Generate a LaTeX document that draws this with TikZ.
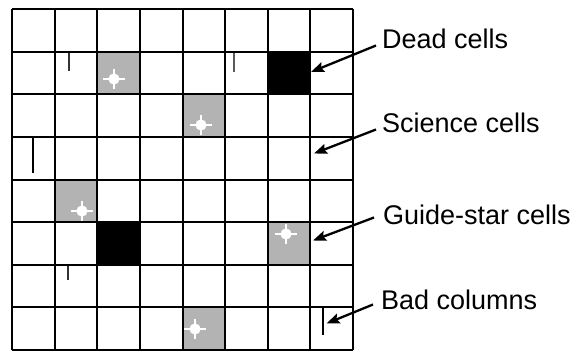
\documentclass[tikz,border=0pt]{standalone}
\usepackage{fontspec}
\setmainfont{Liberation Sans}
\usetikzlibrary{arrows.meta}
\definecolor{guidegray}{RGB}{179,179,179}
\tikzset{
  gridline/.style={line width=2pt,black},
  deadcell/.style={fill=black},
  guidecell/.style={fill=guidegray},
  starmark/.style={white,line width=1.2pt},
  badcol/.style={line width=#1,black!80},
  label/.style={anchor=base west,inner sep=0pt,font=\fontsize{27}{30}\selectfont},
  pointer/.style={line width=2.3pt,-{Stealth[length=13pt,width=10pt,inset=2pt]}},
}
\newcommand{\cellat}[3]{% col, row, style
  \fill[#3] ({12+42.625*(#1-1)},{9+42.625*(#2-1)}) rectangle ++(42.625,42.625);}
\newcommand{\guidestar}[2]{%
  \fill[white] (#1,#2) circle (5.6);
  \draw[starmark] (#1-11,#2) -- (#1+11,#2);
  \draw[starmark] (#1,#2-10) -- (#1,#2+10);}
\begin{document}
\begin{tikzpicture}[x=1pt,y=-1pt]
\useasboundingbox (0,0) rectangle (576,351);
\fill[white] (0,0) rectangle (576,351);
% special cells
\cellat{3}{2}{guidecell}
\cellat{5}{3}{guidecell}
\cellat{2}{5}{guidecell}
\cellat{7}{6}{guidecell}
\cellat{5}{8}{guidecell}
\cellat{7}{2}{deadcell}
\cellat{3}{6}{deadcell}
% guide stars
\guidestar{114}{79}
\guidestar{201}{125}
\guidestar{82}{211}
\guidestar{286}{234}
\guidestar{195}{329}
% bad columns
\draw[badcol=1.5pt] (69,51.6) -- (69,71);
\draw[badcol=1.2pt,black!65] (234,51.6) -- (234,72);
\draw[badcol=2pt,black] (33,136.9) -- (33,173);
\draw[badcol=1.6pt] (68,264.75) -- (68,280);
\draw[badcol=1.2pt,black] (323,307.4) -- (323,335);
% grid
\foreach \i in {0,...,8}{
  \draw[gridline] ({12+42.625*\i},9) -- ({12+42.625*\i},350);
  \draw[gridline] (12,{9+42.625*\i}) -- (353,{9+42.625*\i});
}
% labels
\node[label] (dead) at (382,48) {Dead cells};
\node[label] (sci) at (382,132) {Science cells};
\node[label] (guide) at (383,224) {Guide-star cells};
\node[label] (bad) at (381,309) {Bad columns};
% pointer ends
\coordinate (deadtip) at (311,72);
\coordinate (scitip) at (314,153.5);
\coordinate (guidetip) at (313,240.5);
\coordinate (badtip) at (326.5,323.5);
\coordinate (deadst) at (376,45.5);
\coordinate (scist) at (376,129.5);
\coordinate (guidest) at (374,217.5);
\coordinate (badst) at (373,304.5);
\draw[pointer] (deadst) -- (deadtip);
\draw[pointer] (scist) -- (scitip);
\draw[pointer] (guidest) -- (guidetip);
\draw[pointer] (badst) -- (badtip);
\end{tikzpicture}
\end{document}
